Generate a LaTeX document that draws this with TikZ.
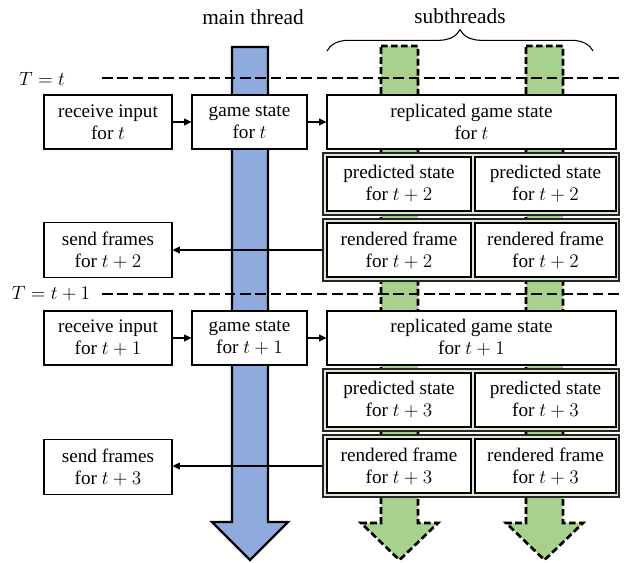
\documentclass[tikz,border=0pt]{standalone}
\usepackage{fontspec}
\setmainfont{Liberation Serif}
\usetikzlibrary{arrows.meta,decorations.pathreplacing}

\definecolor{mainblue}{HTML}{8FAADC}
\definecolor{subgreen}{HTML}{A9D18E}
\definecolor{palegreen}{HTML}{DAEAD0}

\tikzset{
  box/.style={draw=black, line width=0.8pt, fill=white, inner sep=0pt,
    align=center, font=\fontsize{14.4pt}{16.5pt}\selectfont},
  group/.style={draw=black!85, line width=1.1pt, fill=palegreen, inner sep=0pt},
  mainbar/.style={draw=black, line width=1.6pt, fill=mainblue, line join=miter},
  subbar/.style={draw=black, line width=2pt, fill=subgreen, dash pattern=on 5pt off 2.5pt},
  tick/.style={draw=black, line width=1.4pt, dash pattern=on 8pt off 3.5pt},
  flow/.style={draw=black, line width=1.1pt, -{Triangle[length=5.5pt,width=5pt]}},
  head/.style={font=\fontsize{16pt}{18pt}\selectfont},
  tlabel/.style={font=\fontsize{14.4pt}{16.5pt}\selectfont}
}

\begin{document}
\begin{tikzpicture}[x=0.75pt, y=-0.75pt]
\useasboundingbox (0,0) rectangle (629,563);

% thread bars
\draw[mainbar] (232,47) -- (268,47) -- (268,522) -- (288,522) -- (250,560)
  -- (212,522) -- (232,522) -- cycle;
\draw[subbar] (381,46) -- (418,46) -- (418,523) -- (438,523) -- (399.5,560)
  -- (361,523) -- (381,523) -- cycle;
\draw[subbar] (526,46) -- (563,46) -- (563,523) -- (583,523) -- (544.5,560)
  -- (506,523) -- (526,523) -- cycle;

% headers
\node[head] (hmain) at (253,17) {main thread};
\node[head] (hsub) at (460,16) {subthreads};
\coordinate (bl) at (327,51);
\coordinate (br) at (593,51);
\draw[line width=0.8pt, decorate, decoration={brace, amplitude=16pt}] (bl) -- (br);

% time marks
\coordinate (t0a) at (102,78);
\coordinate (t0b) at (621,78);
\coordinate (t1a) at (102,294);
\coordinate (t1b) at (621,294);
\draw[tick] (t0a) -- (t0b);
\draw[tick] (t1a) -- (t1b);
\node[tlabel] (lt0) at (42,79) {$T = t$};
\node[tlabel] (lt1) at (51,294) {$T = t + 1$};

% ---- step t ----
\node[box, minimum width=96pt, minimum height=40.5pt] (recv1) at (108,122)
  {receive input\\for $t$};
\node[box, minimum width=86.25pt, minimum height=40.5pt] (game1) at (249.5,122)
  {game state\\for $t$};
\node[box, minimum width=216.75pt, minimum height=40.5pt] (rep1) at (471.5,122)
  {replicated game state\\for $t$};

\node[group, minimum width=222pt, minimum height=46.5pt] (predg1) at (471,184) {};
\node[box, minimum width=108pt, minimum height=40.5pt] (pred1a) at (399,184)
  {predicted state\\for $t+2$};
\node[box, minimum width=105.75pt, minimum height=40.5pt] (pred1b) at (545.5,184)
  {predicted state\\for $t+2$};

\node[group, minimum width=222pt, minimum height=46.5pt] (rendg1) at (471,250) {};
\node[box, minimum width=108pt, minimum height=40.5pt] (rend1a) at (399,250)
  {rendered frame\\for $t+2$};
\node[box, minimum width=105.75pt, minimum height=40.5pt] (rend1b) at (545.5,250)
  {rendered frame\\for $t+2$};

\node[box, minimum width=96pt, minimum height=41.25pt] (send1) at (108,250)
  {send frames\\for $t+2$};

% ---- step t+1 ----
\node[box, minimum width=96pt, minimum height=40.5pt] (recv2) at (108,338)
  {receive input\\for $t+1$};
\node[box, minimum width=86.25pt, minimum height=40.5pt] (game2) at (249.5,338)
  {game state\\for $t+1$};
\node[box, minimum width=216.75pt, minimum height=40.5pt] (rep2) at (471.5,338)
  {replicated game state\\for $t+1$};

\node[group, minimum width=222pt, minimum height=46.5pt] (predg2) at (471,400) {};
\node[box, minimum width=108pt, minimum height=40.5pt] (pred2a) at (399,400)
  {predicted state\\for $t+3$};
\node[box, minimum width=105.75pt, minimum height=40.5pt] (pred2b) at (545.5,400)
  {predicted state\\for $t+3$};

\node[group, minimum width=222pt, minimum height=46.5pt] (rendg2) at (471,466) {};
\node[box, minimum width=108pt, minimum height=40.5pt] (rend2a) at (399,466)
  {rendered frame\\for $t+3$};
\node[box, minimum width=105.75pt, minimum height=40.5pt] (rend2b) at (545.5,466)
  {rendered frame\\for $t+3$};

\node[box, minimum width=96pt, minimum height=41.25pt] (send2) at (108,467)
  {send frames\\for $t+3$};

% data flow
\draw[flow] (recv1) -- (game1);
\draw[flow] (game1) -- (rep1);
\draw[flow] (rendg1.west) -- (send1.east);
\draw[flow] (recv2) -- (game2);
\draw[flow] (game2) -- (rep2);
\draw[flow] (rendg2.west) -- (send2.east |- rendg2.west);
\end{tikzpicture}
\end{document}
